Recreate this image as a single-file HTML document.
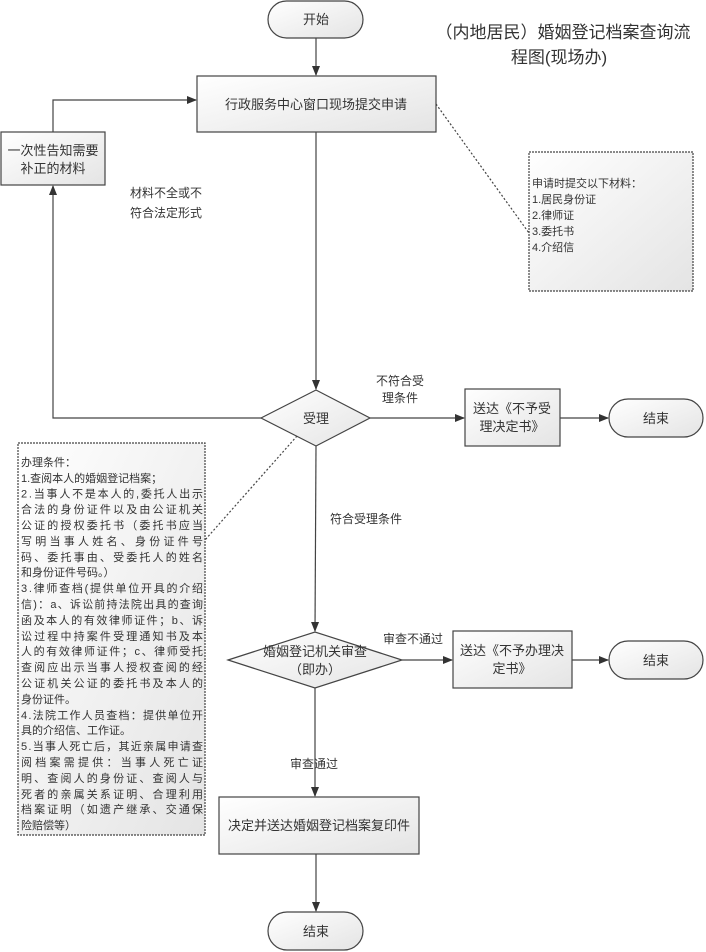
<!DOCTYPE html>
<html><head><meta charset="utf-8"><style>
html,body{margin:0;padding:0;background:#fff}
svg{display:block}
text{font-family:"Liberation Sans","Noto Sans CJK SC",sans-serif;fill:#333}
</style></head><body>
<svg width="706" height="952" viewBox="0 0 706 952" xmlns="http://www.w3.org/2000/svg">
<defs>
<linearGradient id="g" x1="0" y1="0" x2="1" y2="1"><stop offset="0" stop-color="#ffffff"/><stop offset="1" stop-color="#e4e4e4"/></linearGradient>
<marker id="a" markerWidth="10" markerHeight="10" refX="9" refY="5" orient="auto" markerUnits="userSpaceOnUse"><path d="M0,1 L10,5 L0,9 Z" fill="#333"/></marker>
</defs>
<g stroke="#444" stroke-width="1.2" fill="url(#g)">
<rect x="268" y="1" width="95" height="37" rx="18.5"/>
<rect x="197" y="76" width="239" height="56"/>
<rect x="1" y="132" width="104" height="53"/>
<rect x="529" y="152" width="164" height="139" stroke-dasharray="2,1"/>
<polygon points="261,418 316,390 370,418 316,446"/>
<rect x="465" y="389" width="95" height="57"/>
<rect x="609" y="399" width="94" height="38" rx="19"/>
<rect x="18" y="443" width="187" height="392" stroke-dasharray="2,1"/>
<polygon points="228,660 315,632 402,660 315,688"/>
<rect x="453" y="631" width="119" height="57"/>
<rect x="609" y="641" width="94" height="38" rx="19"/>
<rect x="219" y="797" width="200" height="57"/>
<rect x="268" y="912" width="95" height="38" rx="19"/>
</g>
<g stroke="#444" stroke-width="1.2" fill="none">
<path d="M316,38 V75" marker-end="url(#a)"/>
<path d="M316,132 V389" marker-end="url(#a)"/>
<path d="M53,132 V100 H196" marker-end="url(#a)"/>
<path d="M261,418 H53 V186" marker-end="url(#a)"/>
<path d="M370,418 H464" marker-end="url(#a)"/>
<path d="M560,418 H608" marker-end="url(#a)"/>
<path d="M316,446 L315,631" marker-end="url(#a)"/>
<path d="M402,660 H452" marker-end="url(#a)"/>
<path d="M572,660 H608" marker-end="url(#a)"/>
<path d="M315,688 V796" marker-end="url(#a)"/>
<path d="M316,854 V911" marker-end="url(#a)"/>
<path d="M436,104 L529,233" stroke-dasharray="2,2"/>
<path d="M297,436 L205,540" stroke-dasharray="2,2"/>
</g>
<g font-size="13" text-anchor="middle">
<text x="316" y="24">开始</text>
<text x="316" y="109">行政服务中心窗口现场提交申请</text>
<text x="53" y="155">一次性告知需要</text>
<text x="53" y="173">补正的材料</text>
<text x="316" y="423">受理</text>
<text x="512" y="413">送达《不予受</text>
<text x="512" y="431">理决定书》</text>
<text x="656" y="423">结束</text>
<text x="315" y="656">婚姻登记机关审查</text>
<text x="315" y="674">（即办）</text>
<text x="512" y="655">送达《不予办理决</text>
<text x="512" y="673">定书》</text>
<text x="656" y="665">结束</text>
<text x="319" y="830">决定并送达婚姻登记档案复印件</text>
<text x="316" y="936">结束</text>
</g>
<g font-size="12">
<text x="130" y="197">材料不全或不</text>
<text x="130" y="217">符合法定形式</text>
<text x="376" y="385">不符合受</text>
<text x="382" y="402">理条件</text>
<text x="330" y="523">符合受理条件</text>
<text x="383" y="643">审查不通过</text>
<text x="290" y="768">审查通过</text>
</g>
<g font-size="17" text-anchor="middle">
<text x="563" y="38">（内地居民）婚姻登记档案查询流</text>
<text x="559" y="63">程图(现场办)</text>
</g>
<g font-size="11">
<text x="532" y="187">申请时提交以下材料：</text>
<text x="532" y="203">1.居民身份证</text>
<text x="532" y="219">2.律师证</text>
<text x="532" y="235">3.委托书</text>
<text x="532" y="251">4.介绍信</text>
</g>
<g font-size="11">
<text x="21" y="466">办理条件：</text>
<text x="21" y="482">1.查阅本人的婚姻登记档案；</text>
<text x="21" y="497.5" textLength="182">2.当事人不是本人的,委托人出示</text>
<text x="21" y="513" textLength="182">合法的身份证件以及由公证机关</text>
<text x="21" y="529" textLength="182">公证的授权委托书（委托书应当</text>
<text x="21" y="545" textLength="182">写明当事人姓名、身份证件号</text>
<text x="21" y="561" textLength="182">码、委托事由、受委托人的姓名</text>
<text x="21" y="576">和身份证件号码。）</text>
<text x="21" y="592" textLength="182">3.律师查档(提供单位开具的介绍</text>
<text x="21" y="608" textLength="182">信)：a、诉讼前持法院出具的查询</text>
<text x="21" y="624" textLength="182">函及本人的有效律师证件；b、诉</text>
<text x="21" y="640" textLength="182">讼过程中持案件受理通知书及本</text>
<text x="21" y="655" textLength="182">人的有效律师证件；c、律师受托</text>
<text x="21" y="671" textLength="182">查阅应出示当事人授权查阅的经</text>
<text x="21" y="687" textLength="182">公证机关公证的委托书及本人的</text>
<text x="21" y="703">身份证件。</text>
<text x="21" y="719" textLength="182">4.法院工作人员查档：提供单位开</text>
<text x="21" y="734">具的介绍信、工作证。</text>
<text x="21" y="750" textLength="182">5.当事人死亡后，其近亲属申请查</text>
<text x="21" y="766" textLength="182">阅档案需提供：当事人死亡证</text>
<text x="21" y="782" textLength="182">明、查阅人的身份证、查阅人与</text>
<text x="21" y="798" textLength="182">死者的亲属关系证明、合理利用</text>
<text x="21" y="813" textLength="182">档案证明（如遗产继承、交通保</text>
<text x="21" y="829">险赔偿等）</text>
</g>
</svg>
</body></html>
